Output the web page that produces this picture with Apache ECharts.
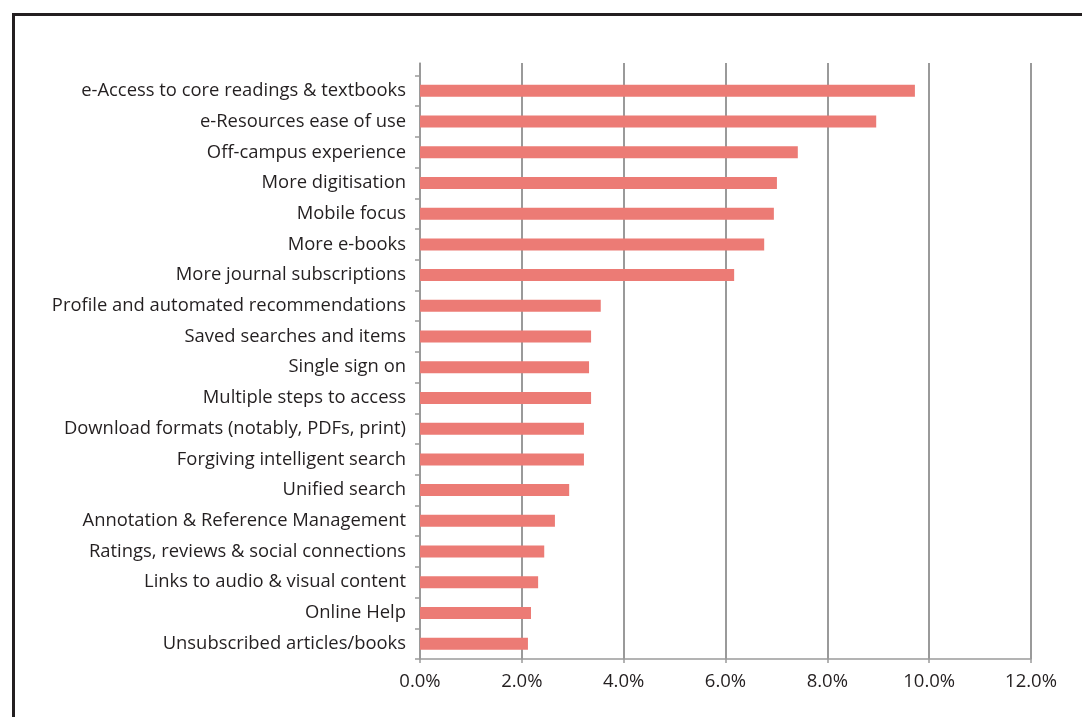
<!DOCTYPE html>
<html>
<head>
<meta charset="utf-8">
<script src="https://cdn.jsdelivr.net/npm/echarts@6/dist/echarts.min.js"></script>
<style>
html,body{margin:0;padding:0;background:#fff;}
#chart{width:1082px;height:717px;}
</style>
</head>
<body>
<div id="chart"></div>
<script>
const categories = [
  "e-Access to core readings & textbooks",
  "e-Resources ease of use",
  "Off-campus experience",
  "More digitisation",
  "Mobile focus",
  "More e-books",
  "More journal subscriptions",
  "Profile and automated recommendations",
  "Saved searches and items",
  "Single sign on",
  "Multiple steps to access",
  "Download formats (notably, PDFs, print)",
  "Forgiving intelligent search",
  "Unified search",
  "Annotation & Reference Management",
  "Ratings, reviews & social connections",
  "Links to audio & visual content",
  "Online Help",
  "Unsubscribed articles/books"
];
const values = [9.72, 8.96, 7.42, 7.01, 6.95, 6.76, 6.17, 3.55, 3.36, 3.32, 3.36, 3.22, 3.22, 2.93, 2.65, 2.44, 2.32, 2.18, 2.12];
const xMin = 0, xMax = 12, xStep = 2;

const chart = echarts.init(document.getElementById('chart'), null, {renderer:'canvas'});
const gridColor = '#9a9a9a';
const textColor = '#231f20';
const font = 'Open Sans';

chart.setOption({
  animation: false,
  backgroundColor: '#ffffff',
  graphic: [{
    type: 'rect',
    shape: {x: 13.5, y: 14.5, width: 1200, height: 800},
    style: {fill: 'none', stroke: '#231f20', lineWidth: 3},
    z: 100
  }],
  grid: [
    {left: 420, right: 51, top: 63, bottom: 58, containLabel: false},
    {left: 420, right: 51, top: 75.5, bottom: 58, containLabel: false}
  ],
  xAxis: [
    {
      gridIndex: 0, type: 'value', min: xMin, max: xMax, interval: xStep,
      axisLine: {show: true, lineStyle: {color: gridColor, width: 1.5}},
      axisTick: {show: true, length: 4, lineStyle: {color: gridColor, width: 1.5}},
      splitLine: {show: true, lineStyle: {color: gridColor, width: 2}},
      axisLabel: {
        color: textColor, fontFamily: font, fontSize: 18.5, margin: 13,
        formatter: v => v.toFixed(1) + '%'
      }
    },
    {
      gridIndex: 1, type: 'value', min: xMin, max: xMax, interval: xStep, show: false
    }
  ],
  yAxis: [
    {
      gridIndex: 0, type: 'value', min: 0, max: 1,
      axisLine: {show: true, lineStyle: {color: gridColor, width: 1.5}},
      axisTick: {show: false}, axisLabel: {show: false}, splitLine: {show: false}
    },
    {
      gridIndex: 1, type: 'category', data: categories, inverse: true,
      axisLine: {show: false},
      axisTick: {show: true, length: 5, inside: false, lineStyle: {color: gridColor, width: 1.5}},
      axisLabel: {color: textColor, fontFamily: font, fontSize: 18.4, margin: 14},
      splitLine: {show: false}
    }
  ],
  series: [{
    type: 'bar',
    xAxisIndex: 1, yAxisIndex: 1,
    data: values,
    barWidth: 12,
    itemStyle: {color: '#ec7b75'},
    silent: true
  }]
});
</script>
</body>
</html>
